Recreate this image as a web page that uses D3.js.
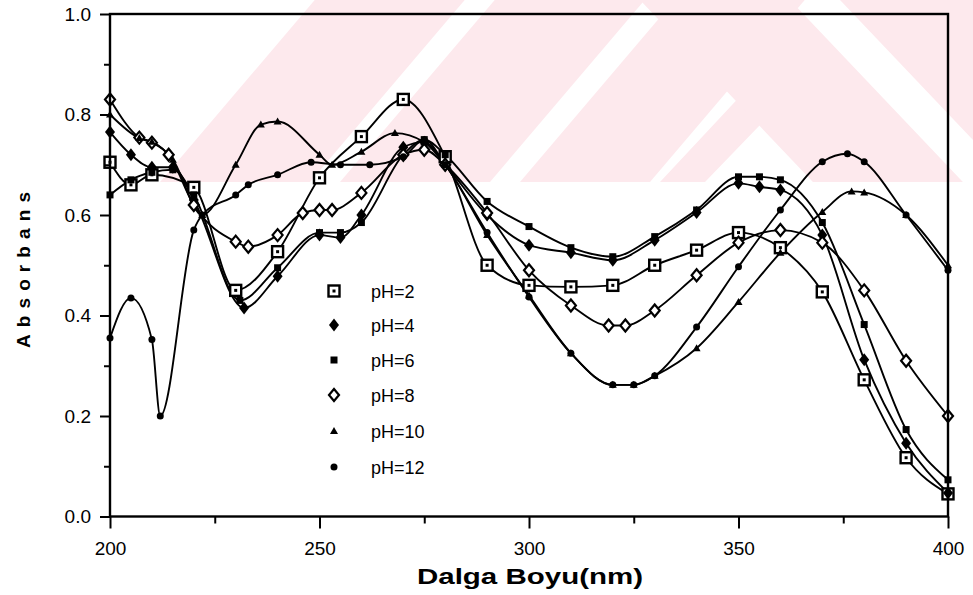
<!DOCTYPE html>
<html>
<head>
<meta charset="utf-8">
<script src="https://cdn.jsdelivr.net/npm/d3@7"></script>
<style>
  body { margin: 0; background: #fff; }
  svg { display: block; }
</style>
</head>
<body>
<svg id="chart" width="973" height="595"></svg>
<script>
// Absorbance spectra of the compound at six pH values (wavelength in nm)
const wlPH2  = [200, 205, 210, 220, 230, 240, 250, 260, 270, 280, 290, 300, 310, 320, 330, 340, 350, 360, 370, 380, 390, 400];
const absPH2 = [0.705, 0.66, 0.68, 0.655, 0.45, 0.527, 0.674, 0.756, 0.83, 0.716, 0.50, 0.46, 0.457, 0.46, 0.50, 0.53, 0.565, 0.535, 0.447, 0.272, 0.117, 0.045];

const wlPH4  = [200, 205, 210, 215, 220, 232, 240, 250, 255, 260, 270, 275, 280, 290, 300, 310, 320, 330, 340, 350, 355, 360, 370, 380, 390, 400];
const absPH4 = [0.765, 0.72, 0.695, 0.695, 0.63, 0.415, 0.478, 0.56, 0.555, 0.60, 0.735, 0.745, 0.70, 0.60, 0.54, 0.525, 0.51, 0.55, 0.605, 0.663, 0.656, 0.65, 0.56, 0.312, 0.146, 0.047];

const wlPH6  = [200, 205, 210, 215, 220, 231, 240, 250, 255, 260, 270, 275, 280, 290, 300, 310, 320, 330, 340, 350, 355, 360, 370, 380, 390, 400];
const absPH6 = [0.64, 0.67, 0.685, 0.69, 0.64, 0.43, 0.495, 0.565, 0.565, 0.585, 0.72, 0.75, 0.72, 0.627, 0.577, 0.535, 0.517, 0.557, 0.61, 0.676, 0.676, 0.67, 0.585, 0.382, 0.173, 0.073];

const wlPH8  = [200, 207, 210, 214, 220, 230, 233, 240, 246, 250, 253, 260, 270, 275, 280, 290, 300, 310, 319, 323, 330, 340, 350, 360, 370, 380, 390, 400];
const absPH8 = [0.83, 0.754, 0.744, 0.72, 0.62, 0.547, 0.537, 0.56, 0.604, 0.61, 0.61, 0.644, 0.72, 0.73, 0.70, 0.604, 0.49, 0.42, 0.38, 0.38, 0.41, 0.48, 0.545, 0.57, 0.545, 0.45, 0.31, 0.20];

const wlPH10  = [200, 207, 210, 215, 222, 230, 236, 240, 250, 253, 260, 268, 275, 280, 290, 300, 310, 320, 325, 330, 340, 350, 360, 370, 377, 380, 390, 400];
const absPH10 = [0.80, 0.753, 0.746, 0.71, 0.60, 0.70, 0.78, 0.786, 0.72, 0.70, 0.726, 0.763, 0.745, 0.70, 0.56, 0.44, 0.325, 0.262, 0.262, 0.28, 0.335, 0.427, 0.525, 0.606, 0.647, 0.645, 0.60, 0.50];

const wlPH12  = [200, 205, 210, 212, 220, 222, 230, 233, 240, 248, 255, 262, 270, 275, 280, 290, 300, 310, 320, 325, 330, 340, 350, 360, 370, 376, 380, 390, 400];
const absPH12 = [0.355, 0.435, 0.352, 0.20, 0.57, 0.60, 0.64, 0.66, 0.68, 0.705, 0.70, 0.70, 0.716, 0.75, 0.70, 0.565, 0.437, 0.325, 0.262, 0.262, 0.28, 0.377, 0.497, 0.61, 0.706, 0.722, 0.706, 0.60, 0.49];

const legendLabels = ["pH=2", "pH=4", "pH=6", "pH=8", "pH=10", "pH=12"];
const yTickValues = [0, 0.2, 0.4, 0.6, 0.8, 1.0];
const yMinorValues = [0.1, 0.3, 0.5, 0.7, 0.9];
const xTickValues = [200, 250, 300, 350, 400];
const xMinorValues = [225, 275, 325, 375];

const series = [
  { label: legendLabels[0], wl: wlPH2,  abs: absPH2,  marker: "openSquare" },
  { label: legendLabels[1], wl: wlPH4,  abs: absPH4,  marker: "filledDiamond" },
  { label: legendLabels[2], wl: wlPH6,  abs: absPH6,  marker: "smallSquare" },
  { label: legendLabels[3], wl: wlPH8,  abs: absPH8,  marker: "openDiamond" },
  { label: legendLabels[4], wl: wlPH10, abs: absPH10, marker: "triangle" },
  { label: legendLabels[5], wl: wlPH12, abs: absPH12, marker: "circle" }
];

const svg = d3.select("#chart");
const plotLeft = 110, plotRight = 948, plotTop = 14, plotBottom = 516.5;

const x = d3.scaleLinear().domain([200, 400]).range([plotLeft, plotRight]);
const y = d3.scaleLinear().domain([0, 1]).range([plotBottom, plotTop]);

// faint pink background emblem across the upper band
const wm = svg.append("g").attr("fill", "#fde9ed");
const band = (b, w, s) => [[b, 182], [b + w, 182], [b + w + s * 182, 0], [b + s * 182, 0]];
const bandDown = (t, w, s) => [[t, 0], [t + w, 0], [t + w + s * 182, 182], [t + s * 182, 182]];
const wmShapes = [
  band(160, 150, 0.85),
  band(340, 150, 0.85),
  band(520, 130, 0.85),
  [[660, 182], [760, 75], [860, 182], [815, 182], [760, 125], [705, 182]],
  bandDown(640, 150, 0.95),
  bandDown(840, 140, 0.95)
];
wm.selectAll("polygon").data(wmShapes).join("polygon")
  .attr("points", d => d.map(p => p.join(",")).join(" "));

// spectra
const line = d3.line()
  .x(d => x(d[0]))
  .y(d => y(d[1]))
  .curve(d3.curveMonotoneX);

const plot = svg.append("g");
series.forEach(s => {
  const pts = s.wl.map((w, i) => [w, s.abs[i]]);
  plot.append("path")
    .datum(pts)
    .attr("fill", "none")
    .attr("stroke", "#000")
    .attr("stroke-width", 1.9)
    .attr("stroke-linejoin", "round")
    .attr("d", line);
});

function drawMarker(g, type, cx, cy) {
  switch (type) {
    case "openSquare":
      g.append("rect").attr("x", cx - 5.5).attr("y", cy - 5.5).attr("width", 11).attr("height", 11)
        .attr("fill", "#fff").attr("stroke", "#000").attr("stroke-width", 2.4);
      g.append("rect").attr("x", cx - 1.5).attr("y", cy - 1.5).attr("width", 3).attr("height", 3).attr("fill", "#000");
      break;
    case "filledDiamond":
      g.append("path").attr("d", `M${cx},${cy - 6.5}L${cx + 5},${cy}L${cx},${cy + 6.5}L${cx - 5},${cy}Z`).attr("fill", "#000");
      break;
    case "smallSquare":
      g.append("rect").attr("x", cx - 3.5).attr("y", cy - 3.5).attr("width", 7).attr("height", 7).attr("fill", "#000");
      break;
    case "openDiamond":
      g.append("path").attr("d", `M${cx},${cy - 6}L${cx + 5},${cy}L${cx},${cy + 6}L${cx - 5},${cy}Z`)
        .attr("fill", "#fff").attr("stroke", "#000").attr("stroke-width", 2.2);
      break;
    case "triangle":
      g.append("path").attr("d", `M${cx},${cy - 4}L${cx + 4},${cy + 3}L${cx - 4},${cy + 3}Z`).attr("fill", "#000");
      break;
    case "circle":
      g.append("circle").attr("cx", cx).attr("cy", cy).attr("r", 3.5).attr("fill", "#000");
      break;
  }
}

const markers = svg.append("g");
series.forEach(s => {
  s.wl.forEach((w, i) => drawMarker(markers, s.marker, x(w), y(s.abs[i])));
});

// frame
svg.append("rect")
  .attr("x", plotLeft).attr("y", plotTop)
  .attr("width", plotRight - plotLeft).attr("height", plotBottom - plotTop)
  .attr("fill", "none").attr("stroke", "#000").attr("stroke-width", 2.4);

// axes
const tickFont = "'Liberation Sans', Arial, sans-serif";
svg.append("g").attr("transform", `translate(${plotLeft},0)`)
  .call(d3.axisLeft(y).tickValues(yTickValues).tickSize(10).tickPadding(9).tickFormat(d3.format(".1f")));
svg.append("g").attr("transform", `translate(${plotLeft},0)`)
  .call(d3.axisLeft(y).tickValues(yMinorValues).tickSize(6).tickFormat(""));
svg.append("g").attr("transform", `translate(0,${plotBottom})`)
  .call(d3.axisBottom(x).tickValues(xTickValues).tickSize(12).tickPadding(13).tickFormat(d3.format("d")));
svg.append("g").attr("transform", `translate(0,${plotBottom})`)
  .call(d3.axisBottom(x).tickValues(xMinorValues).tickSize(7).tickFormat(""));

svg.selectAll(".domain").remove();
svg.selectAll(".tick line").attr("stroke", "#000").attr("stroke-width", 2);
svg.selectAll(".tick text")
  .attr("fill", "#000")
  .style("font-family", tickFont)
  .style("font-size", "19px");

// axis titles
svg.append("text")
  .attr("x", 530).attr("y", 584)
  .attr("text-anchor", "middle")
  .attr("textLength", 226).attr("lengthAdjust", "spacingAndGlyphs")
  .style("font-family", tickFont).style("font-weight", "bold").style("font-size", "22px")
  .text("Dalga Boyu(nm)");

svg.append("text")
  .attr("transform", "translate(30,270) rotate(-90)")
  .attr("text-anchor", "middle")
  .attr("textLength", 156).attr("lengthAdjust", "spacing")
  .style("font-family", tickFont).style("font-weight", "bold").style("font-size", "19px")
  .text("Absorbans");

// legend
const legendRows = [291, 325, 360, 395, 431, 467];
const legend = svg.append("g");
series.forEach((s, i) => {
  drawMarker(legend, s.marker, 334, legendRows[i]);
  legend.append("text")
    .attr("x", 371).attr("y", legendRows[i] + 6.5)
    .style("font-family", tickFont).style("font-size", "18px")
    .text(s.label);
});
</script>
</body>
</html>
